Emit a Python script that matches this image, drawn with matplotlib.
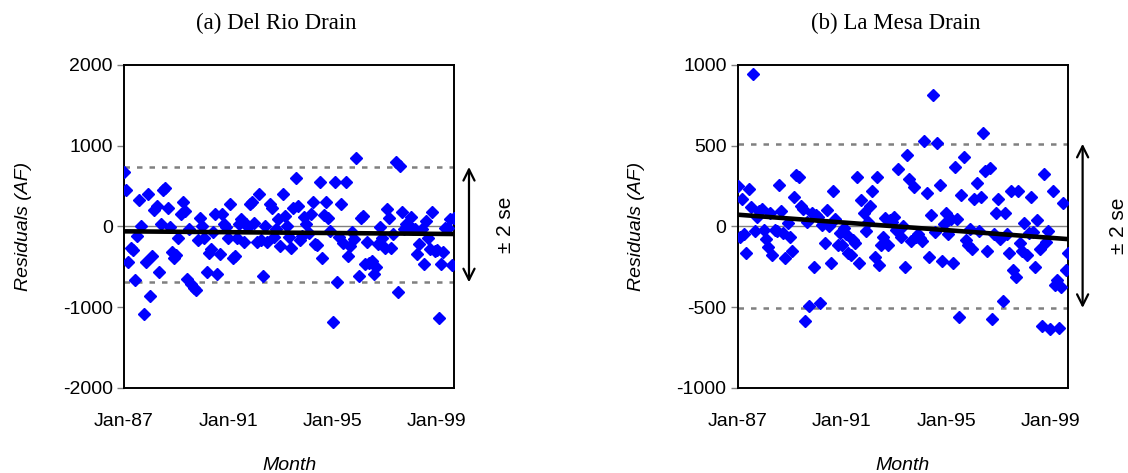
import numpy as np
import pandas as pd
import matplotlib
matplotlib.use('Agg')
import matplotlib.pyplot as plt

# monthly residuals, Jan-1987 onward
months = pd.date_range('1987-01-01', periods=153, freq='MS')

delrio_resid = [
    677, 454, -442, -268, -290, -665, -120, 330, 4, -1082,
    -442, 405, -859, -367, 198, 248, -566, 29, 450, 479,
    227, -8, -314, -388, -359, -144, 157, 301, 186, -656,
    -37, -718, -760, -788, -169, 107, 4, -149, -566, -334,
    -277, -74, 157, -586, -342, 157, 33, -12, -144, 281,
    -388, -367, -149, 25, 87, -194, 33, -8, 272, 305,
    41, -194, 405, -169, -615, 4, -194, 281, 227, -128,
    -37, 87, -239, 405, 128, 4, -128, -268, 227, 603,
    252, -165, -124, 111, 33, -83, 149, 301, -215, -227,
    549, -392, 140, 301, 107, -58, -1185, 549, -689, -128,
    281, -202, 549, -367, -244, -66, -153, 846, -615, 103,
    128, -462, -194, -450, -429, -586, -504, -223, -12, -140,
    -268, 211, 107, -264, -99, 801, -813, 747, 182, -29,
    33, 4, 111, -29, -37, -338, -215, -37, -462, 62,
    -144, -285, 182, -305, -293, -1131, -462, -318, -21, -17,
    87, -479, 107,
]

lamesa_resid = [
    248, -66, 172, -50, -166, 234, 120, 940, -29, 58,
    95, 110, -25, -79, -128, 85, -176, -25, -31, 255,
    95, -41, -193, 21, -66, -153, 182, 317, 306, 124,
    110, -588, 27, -491, 85, -253, 72, 58, -474, 6,
    -101, 99, 2, -226, 219, 48, -118, -41, -114, -8,
    -46, -166, -180, -87, -104, 308, -226, 161, 83, -29,
    27, 124, 219, -190, 308, -240, -118, -66, 52, -118,
    37, 27, 58, -21, 358, -66, 2, -253, 441,
    292, -93, 244, -66, -50, -70, -91, 530, 207, -190,
    72, 816, -35, 518, 255, -215, 12, 85, -46, 48,
    -228, 368, 48, -563, 197, 431, -87, -118, -14, -143,
    172, 269, -31, 182, 580, 342, -153, 364, -573, -50,
    83, 172, -77, -464, 83, -46, -166, 219, -273, -315,
    219, -101, -153, 21, -180, -41, 182, -35, -253, 37,
    -143, -615, 327, -97, -31, -636, 219, -366, -335, -631,
    -377, 145, -273, -166,
]

# trend line ends and +/- 2 se bands
delrio_trend = [-62, -95]
lamesa_trend = [72, -79]
delrio_se = [735, -693]
lamesa_se = [511, -505]

titles = ['(a) Del Rio Drain', '(b) La Mesa Drain']
title_x = [0.46, 0.48]
ylims = [(-2000, 2000), (-1000, 1000)]
ysteps = [1000, 500]

plt.rcParams['font.family'] = ['Liberation Sans', 'DejaVu Sans']
plt.rcParams['axes.unicode_minus'] = False

fig = plt.figure(figsize=(11.28, 4.73), dpi=100)
ax1 = fig.add_axes([0.110, 0.180, 0.2926, 0.683])
ax2 = fig.add_axes([0.654, 0.180, 0.2926, 0.683])

x = np.arange(len(months))
tick_idx = [i for i, m in enumerate(months) if m.month == 1 and (m.year - 1987) % 4 == 0]
tick_lab = [months[i].strftime('%b-%y') for i in tick_idx]

panels = [
    (ax1, delrio_resid, delrio_trend, delrio_se),
    (ax2, lamesa_resid, lamesa_trend, lamesa_se),
]

for k, (ax, resid, trend, se) in enumerate(panels):
    ax.axhline(0, color='#808080', lw=1.0, zorder=1)
    for s in se:
        ax.axhline(s, color='#808080', lw=1.8, ls=(0, (2.2, 2.8)), zorder=1)
    ax.plot(x, resid, ls='none', marker='D', ms=5.8, color='#0000FF', mec='#0000FF', zorder=3)
    ax.plot([x[0], x[-1]], trend, color='black', lw=3.3, zorder=4, solid_capstyle='butt')

    ax.set_xlim(x[0], x[-1])
    ax.set_ylim(*ylims[k])
    ax.set_yticks(np.arange(ylims[k][0], ylims[k][1] + 1, ysteps[k]))
    ax.set_xticks(tick_idx)
    ax.set_xticklabels(tick_lab)
    ax.tick_params(axis='x', length=0, pad=18, labelsize=14)
    ax.tick_params(axis='y', length=5, width=1, color='#808080', pad=3, labelsize=14)
    for sp in ax.spines.values():
        sp.set_linewidth(1.4)
        sp.set_color('black')

    ax.set_ylabel('Residuals (AF)', style='italic', fontsize=14)
    ax.yaxis.set_label_coords(-0.28, 0.5)
    ax.set_xlabel('Month', style='italic', fontsize=14)
    ax.xaxis.set_label_coords(0.5, -0.215)
    ax.set_title(titles[k], family='Liberation Serif', fontsize=16.5, pad=26, x=title_x[k])

    ax.annotate('', xy=(1.045, se[0]), xytext=(1.045, se[1]),
                xycoords=('axes fraction', 'data'), textcoords=('axes fraction', 'data'),
                arrowprops=dict(arrowstyle='<->,head_length=0.8,head_width=0.4', lw=1.6, color='black',
                                shrinkA=0, shrinkB=0),
                annotation_clip=False)
    ax.text(1.155, (se[0] + se[1]) / 2, '\u00b1 2 se', rotation=90, fontsize=15,
            transform=ax.get_yaxis_transform(), ha='center', va='center')

fig.savefig('out.png', dpi=100)
